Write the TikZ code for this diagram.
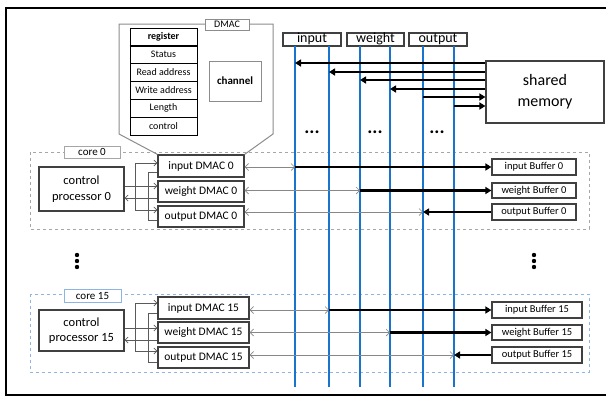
\documentclass[tikz,border=0pt]{standalone}
\usepackage{fontspec}
\setmainfont{Carlito}
\usetikzlibrary{arrows.meta}
\definecolor{busblue}{RGB}{24,116,205}
\definecolor{lightblue}{RGB}{141,180,226}
\definecolor{dashgray}{RGB}{166,166,166}
\definecolor{boxgray}{RGB}{64,64,64}
\definecolor{callgray}{RGB}{140,140,140}
\definecolor{cpgray}{RGB}{90,90,90}
\definecolor{thingray}{RGB}{135,135,135}
\begin{document}
\begin{tikzpicture}[x=1pt,y=-1pt,
  box/.style={draw=boxgray, line width=1.2pt, fill=white, inner sep=0pt, align=center},
  regrow/.style={draw=black, line width=1pt, fill=white, inner sep=0pt, minimum width=67pt, minimum height=18pt, font=\fontsize{10}{11}\selectfont},
  hdr/.style={box, minimum height=13pt, text height=9.5pt, text depth=3pt, font=\fontsize{14}{16}\selectfont},
  cpbox/.style={box, minimum width=85pt, font=\fontsize{12.5}{15.5}\selectfont},
  dmac/.style={box, font=\fontsize{11.5}{13}\selectfont},
  buf/.style={box, font=\fontsize{10.5}{12}\selectfont},
  corelbl/.style={draw=dashgray, line width=1pt, fill=white, inner sep=0pt, font=\fontsize{11}{13}\selectfont},
  bus/.style={draw=busblue, line width=2.5pt},
  heavy/.style={line width=2.3pt, -{Triangle[length=6pt,width=7pt]}},
  thinc/.style={draw=thingray, line width=0.7pt, {Straight Barb[length=3.5pt,width=7pt]}-{Straight Barb[length=3.5pt,width=7pt]}},
  cpl/.style={draw=cpgray, line width=0.7pt},
  cpa/.style={cpl, -{Straight Barb[length=3pt,width=6pt]}},
  dots/.style={inner sep=0pt, font=\fontsize{19}{21}\selectfont\bfseries}
]
\useasboundingbox (0,0) rectangle (606,397);
\draw[line width=1.3pt, black] (6,8) rectangle (606.5,395);

% core frames
\draw[dashgray, dashed, line width=1pt] (30,152) rectangle (589,229);
\draw[lightblue, dashed, line width=1pt] (30,294) rectangle (589,372);
\node[corelbl] (c0lbl) at (92,152) [minimum width=56pt, minimum height=12pt] {core 0};
\node[corelbl, draw=lightblue] (c15lbl) at (92.5,295.5) [minimum width=57pt, minimum height=13pt] {core 15};

% header boxes
\node[hdr, minimum width=58pt] (hin) at (312,39.5) {input};
\node[hdr, minimum width=57pt] (hwt) at (375.5,39.5) {weight};
\node[hdr, minimum width=58pt] (hout) at (438,39.5) {output};

% bus lines
\coordinate (b1) at (295,46); \coordinate (b1e) at (295,387);
\coordinate (b2) at (329,46); \coordinate (b2e) at (329,387);
\coordinate (b3) at (360,46); \coordinate (b3e) at (360,387);
\coordinate (b4) at (390,46); \coordinate (b4e) at (390,387);
\coordinate (b5) at (423,46); \coordinate (b5e) at (423,387);
\coordinate (b6) at (454,46); \coordinate (b6e) at (454,387);
\foreach \i in {1,...,6} {\draw[bus] (b\i) -- (b\i e);}

% shared memory
\node[box, minimum width=118pt, minimum height=62pt, font=\fontsize{16}{21}\selectfont] (sm) at (545,92) {shared\\memory};
\draw[heavy] (sm.west |- 0,63) -- (b1 |- 0,63);
\draw[heavy] (sm.west |- 0,72) -- (b2 |- 0,72);
\draw[heavy] (sm.west |- 0,80) -- (b3 |- 0,80);
\draw[heavy] (sm.west |- 0,89) -- (b4 |- 0,89);
\draw[heavy] (b5 |- 0,97) -- (sm.west |- 0,97);
\draw[heavy] (b6 |- 0,106) -- (sm.west |- 0,106);

\node[dots] (d1) at (312,132) {...};
\node[dots] (d2) at (375,132) {...};
\node[dots] (d3) at (437,132) {...};

% core 0
\node[cpbox, minimum height=44pt] (cp0) at (81.5,189) {control\\processor 0};
\node[dmac, minimum width=86pt, minimum height=22pt] (id0) at (201,166) {input DMAC 0};
\node[dmac, minimum width=86pt, minimum height=21pt] (wd0) at (201,191.5) {weight DMAC 0};
\node[dmac, minimum width=86pt, minimum height=21pt] (od0) at (201,216.5) {output DMAC 0};
\node[buf, minimum width=84pt, minimum height=16pt] (ib0) at (534,167) {input Buffer 0};
\node[buf, minimum width=84pt, minimum height=15pt] (wb0) at (534,190.5) {weight Buffer 0};
\node[buf, minimum width=84pt, minimum height=16pt] (ob0) at (534,212) {output Buffer 0};

\coordinate (s0) at (135,186); \coordinate (r0) at (148,198);
\draw[cpl] (cp0.east |- s0) -- (s0);
\draw[cpa] (s0) |- (id0.west |- 0,163);
\draw[cpa] (s0) -- (wd0.west |- s0);
\draw[cpa] (s0) |- (od0.west |- 0,210);
\draw[cpl] (id0.west |- 0,172) -| (r0);
\draw[cpl] (od0.west |- 0,220) -| (r0);
\draw[cpa] (wd0.west |- r0) -- (cp0.east |- r0);

\draw[thinc] (id0.east |- ib0.west) -- (b1 |- ib0.west);
\draw[heavy] (b1 |- ib0.west) -- (ib0.west);
\draw[thinc] (wd0.east |- wb0.west) -- (b3 |- wb0.west);
\draw[heavy] (b3 |- wb0.west) -- (wb0.west);
\draw[thinc] (od0.east |- ob0.west) -- (b5 |- ob0.west);
\draw[heavy] (ob0.west) -- (b5 |- ob0.west);

% core 15
\node[cpbox, minimum height=41pt] (cp15) at (81.5,330.5) {control\\processor 15};
\node[dmac, minimum width=91pt, minimum height=22pt] (id15) at (203.5,308) {input DMAC 15};
\node[dmac, minimum width=91pt, minimum height=21pt] (wd15) at (203.5,332.5) {weight DMAC 15};
\node[dmac, minimum width=91pt, minimum height=21pt] (od15) at (203.5,357.5) {output DMAC 15};
\node[buf, minimum width=90pt, minimum height=16pt] (ib15) at (537,310) {input Buffer 15};
\node[buf, minimum width=90pt, minimum height=15pt] (wb15) at (537,332.5) {weight Buffer 15};
\node[buf, minimum width=90pt, minimum height=16pt] (ob15) at (537,355) {output Buffer 15};

\coordinate (s15) at (135,328); \coordinate (r15) at (148,340);
\draw[cpl] (cp15.east |- s15) -- (s15);
\draw[cpa] (s15) |- (id15.west |- 0,303);
\draw[cpa] (s15) -- (wd15.west |- s15);
\draw[cpa] (s15) |- (od15.west |- 0,351);
\draw[cpl] (id15.west |- 0,313) -| (r15);
\draw[cpl] (od15.west |- 0,362) -| (r15);
\draw[cpa] (wd15.west |- r15) -- (cp15.east |- r15);

\draw[thinc] (id15.east |- ib15.west) -- (b2 |- ib15.west);
\draw[heavy] (b2 |- ib15.west) -- (ib15.west);
\draw[thinc] (wd15.east |- wb15.west) -- (b4 |- wb15.west);
\draw[heavy] (b4 |- wb15.west) -- (wb15.west);
\draw[thinc] (od15.east |- ob15.west) -- (b6 |- ob15.west);
\draw[heavy] (ob15.west) -- (b6 |- ob15.west);

% vertical dots
\foreach \y in {255,261,267} {
  \fill (77,\y) circle (2.2pt);
  \fill (534,\y) circle (2.2pt);
}

% DMAC callout
\draw[callgray, line width=1pt] (id0.north west) -- (119,134) -- (119,24) -- (273,24) -- (273,134) -- (id0.north east);
\node[box, draw=callgray, line width=1pt, minimum width=44pt, minimum height=11pt, font=\fontsize{10}{12}\selectfont] (dlbl) at (227,24.5) {DMAC};
\node[regrow, minimum height=17pt] (reg) at (163.5,36.5) {\bfseries register};
\node[regrow] (st) at (163.5,54) {Status};
\node[regrow] (ra) at (163.5,72) {Read address};
\node[regrow] (wa) at (163.5,90) {Write address};
\node[regrow] (len) at (163.5,108) {Length};
\node[regrow] (ctl) at (163.5,126) {control};
\draw[line width=2pt] (reg.south west) -- (reg.south east);
\node[box, draw=callgray, line width=1pt, minimum width=52pt, minimum height=40pt, font=\fontsize{11}{13}\selectfont\bfseries] (chan) at (235,81) {channel};
\end{tikzpicture}
\end{document}
